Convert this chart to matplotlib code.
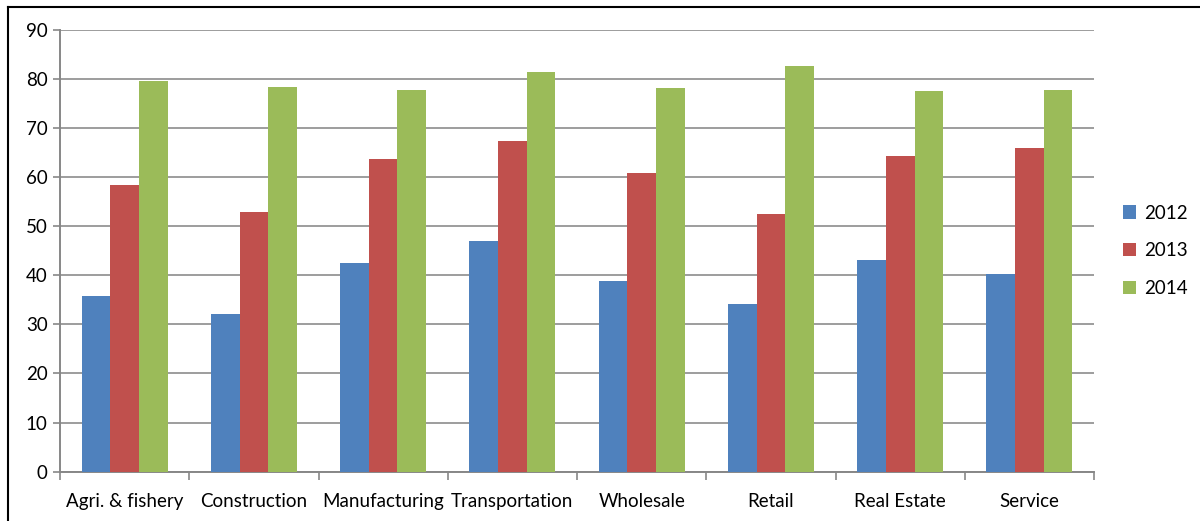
import numpy as np
import matplotlib.pyplot as plt
from matplotlib.lines import Line2D

sectors = ["Agri. & fishery", "Construction", "Manufacturing", "Transportation",
           "Wholesale", "Retail", "Real Estate", "Service"]
years = ["2012", "2013", "2014"]
vals_2012 = [35.8, 32.2, 42.4, 47.0, 38.8, 34.1, 43.1, 40.2]
vals_2013 = [58.3, 52.9, 63.7, 67.4, 60.9, 52.4, 64.2, 66.0]
vals_2014 = [79.5, 78.3, 77.7, 81.4, 78.1, 82.6, 77.5, 77.8]
colors = ["#4F81BD", "#C0504D", "#9BBB59"]

plt.rcParams["font.family"] = ["Lato", "DejaVu Sans"]

fig = plt.figure(figsize=(12, 5.21), dpi=100)
ax = fig.add_axes([0.05, 0.0946, 0.8617, 0.8484])

x = np.arange(len(sectors))
w = 0.222
for i, (vals, yr) in enumerate(zip([vals_2012, vals_2013, vals_2014], years)):
    ax.bar(x + (i - 1) * w, vals, width=w, color=colors[i], label=yr, zorder=3)

ax.set_xlim(-0.5, len(sectors) - 0.5)
ax.set_ylim(0, 90)
ax.set_yticks(range(0, 91, 10))
ax.yaxis.grid(True, color="#8C8C8C", linewidth=1.2, zorder=0)

# category ticks sit on the group boundaries, labels in the middle
ax.set_xticks(np.arange(-0.5, len(sectors), 1.0))
ax.set_xticklabels([])
ax.set_xticks(x, minor=True)
ax.set_xticklabels(sectors, minor=True, fontsize=13.5)
ax.tick_params(axis="x", which="minor", length=0, pad=15)
ax.tick_params(axis="x", which="major", length=6, width=1.2, color="#878787")
ax.tick_params(axis="y", length=5, width=1.2, color="#878787", labelsize=13.5, pad=4)

for side in ["top", "right"]:
    ax.spines[side].set_visible(False)
for side in ["left", "bottom"]:
    ax.spines[side].set_color("#878787")
    ax.spines[side].set_linewidth(1.4)

ax.legend(loc="center left", bbox_to_anchor=(1.012, 0.5), frameon=False,
          fontsize=13.5, handlelength=0.7, handleheight=0.7, handletextpad=0.4,
          labelspacing=1.1)

# outer chart frame
fig.add_artist(Line2D([0.0063, 0.0063], [0, 0.987], color="black", linewidth=1.5))
fig.add_artist(Line2D([0.0063, 1.0], [0.987, 0.987], color="black", linewidth=1.5))

fig.savefig("out.png", dpi=100)
